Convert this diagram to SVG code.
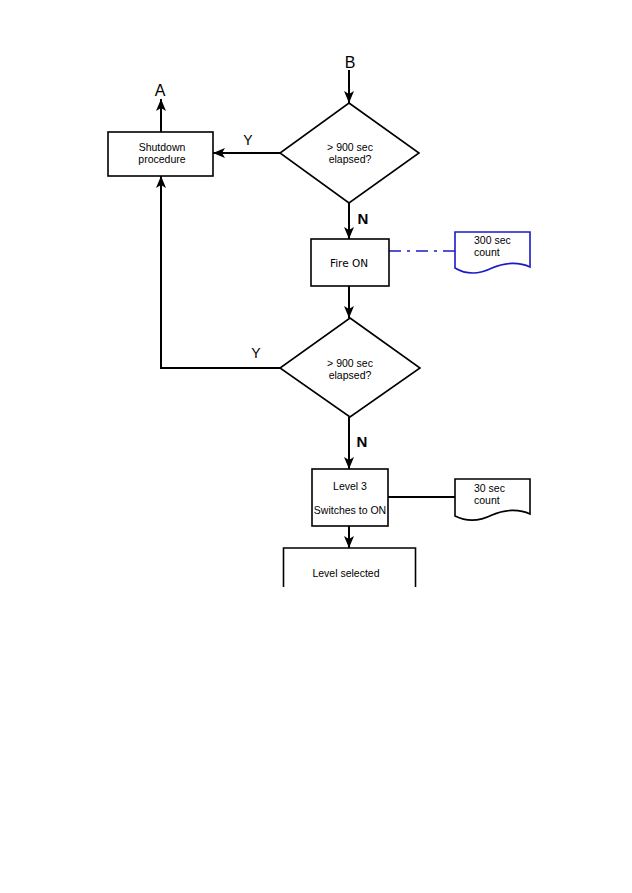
<svg xmlns="http://www.w3.org/2000/svg" width="632" height="893" viewBox="0 0 632 893">
<style>
.box{fill:#fff;stroke:#000;stroke-width:1.6}
.conn{fill:none;stroke:#000;stroke-width:2}
.t{font-family:"Liberation Sans",Arial,sans-serif;font-size:10.5px;fill:#000;text-anchor:middle}
.lbl{font-family:"Liberation Sans",Arial,sans-serif;font-size:16px;fill:#000;text-anchor:middle}
</style>
<defs>
<marker id="ah" viewBox="0 0 12 10" refX="12" refY="5" markerWidth="12" markerHeight="10" orient="auto" markerUnits="userSpaceOnUse">
<path d="M0,0 L12,5 L0,10 L3,5 Z" fill="#000"/>
</marker>
</defs>
<rect width="632" height="893" fill="#fff"/>
<g id="connectors">
<line class="conn" x1="349" y1="70" x2="349" y2="103" marker-end="url(#ah)"/>
<line class="conn" x1="280" y1="153" x2="213" y2="153" marker-end="url(#ah)"/>
<line class="conn" x1="161" y1="132" x2="161" y2="99" marker-end="url(#ah)"/>
<line class="conn" x1="349" y1="203" x2="349" y2="239" marker-end="url(#ah)"/>
<line class="conn" x1="349" y1="286" x2="349" y2="318" marker-end="url(#ah)"/>
<polyline class="conn" points="280,368 161,368 161,176" marker-end="url(#ah)"/>
<line class="conn" x1="349" y1="417" x2="349" y2="469" marker-end="url(#ah)"/>
<line class="conn" x1="349" y1="526" x2="349" y2="548" marker-end="url(#ah)"/>
<line x1="389" y1="251" x2="455" y2="251" stroke="#1a1ac8" stroke-width="1.6" stroke-dasharray="12,6,3,6"/>
<line x1="388" y1="497" x2="455" y2="497" stroke="#000" stroke-width="2"/>
</g>
<g id="labels">
<text class="lbl" x="350" y="68">B</text>
<text class="lbl" x="160" y="96">A</text>
<text class="lbl" x="248" y="145" style="font-size:14px">Y</text>
<text class="lbl" x="363" y="224" style="font-weight:bold;font-size:15px">N</text>
<text class="lbl" x="256" y="358" style="font-size:14px">Y</text>
<text class="lbl" x="362" y="447" style="font-weight:bold;font-size:15px">N</text>
</g>
<g id="shutdown">
<rect class="box" x="108" y="132" width="105" height="44"/>
<text class="t" x="162" y="151">Shutdown</text>
<text class="t" x="162" y="163">procedure</text>
</g>
<g id="decision1">
<polygon class="box" points="349,103 419,153 349,203 280,153"/>
<text class="t" x="350" y="151">&gt; 900 sec</text>
<text class="t" x="350" y="163">elapsed?</text>
</g>
<g id="fireon">
<rect class="box" x="311" y="239" width="78" height="47"/>
<text class="t" x="349" y="267" style="font-family:'DejaVu Sans',Verdana,sans-serif;font-size:10.5px">Fire ON</text>
</g>
<g id="doc300">
<path d="M455,232 H530 V267 C520,262 505,262 492,268 C478,275 465,274 455,268 Z" fill="#fff" stroke="#1a1ac8" stroke-width="1.6"/>
<text class="t" x="474" y="244" style="text-anchor:start">300 sec</text>
<text class="t" x="474" y="256" style="text-anchor:start">count</text>
</g>
<g id="decision2">
<polygon class="box" points="350,318 420,368 350,417 280,368"/>
<text class="t" x="350" y="367">&gt; 900 sec</text>
<text class="t" x="350" y="379">elapsed?</text>
</g>
<g id="level3">
<rect class="box" x="312" y="469" width="76" height="57"/>
<text class="t" x="350" y="490">Level 3</text>
<text class="t" x="350" y="514">Switches to ON</text>
</g>
<g id="doc30">
<path d="M455,479 H530 V514 C520,509 505,509 492,515 C478,522 465,521 455,516 Z" fill="#fff" stroke="#000" stroke-width="1.6"/>
<text class="t" x="474" y="492" style="text-anchor:start">30 sec</text>
<text class="t" x="474" y="504" style="text-anchor:start">count</text>
</g>
<g id="levelselected">
<polyline points="283.5,587 283.5,548 415.5,548 415.5,587" fill="none" stroke="#000" stroke-width="1.6"/>
<text class="t" x="346" y="577">Level selected</text>
</g>
</svg>
